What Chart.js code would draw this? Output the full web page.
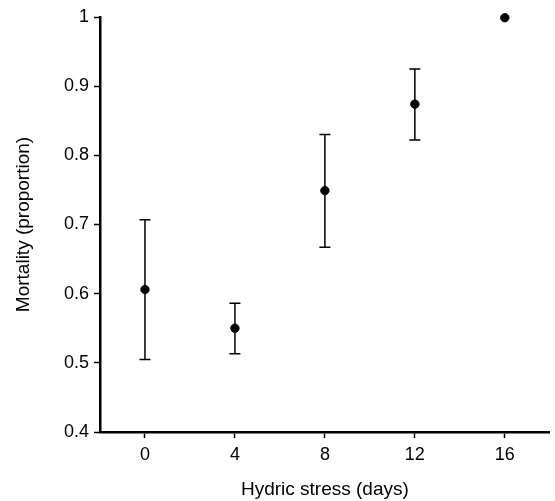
<!DOCTYPE html>
<html>
<head>
<meta charset="utf-8">
<script src="https://cdn.jsdelivr.net/npm/chart.js@4"></script>
<style>
  html, body { margin: 0; padding: 0; background: #fff; }
  #wrap { width: 555px; height: 501px; }
</style>
</head>
<body>
<div id="wrap"><canvas id="chart"></canvas></div>
<script>
// Data //
var days = [0, 4, 8, 12, 16];
var mortality = [0.606, 0.550, 0.749, 0.874, 0.999];
var errUpper = [0.707, 0.586, 0.830, 0.925, null];
var errLower = [0.505, 0.513, 0.667, 0.822, null];
var xTicks = [0, 4, 8, 12, 16];
var yTicks = [0.4, 0.5, 0.6, 0.7, 0.8, 0.9, 1];

var points = days.map(function(d, i) {
    return {x: d, y: mortality[i]};
});

// error bars drawn under the points //
var errorBars = {
    id: 'errorBars',
    beforeDatasetsDraw: function(chart) {
        var ctx = chart.ctx;
        var xs = chart.scales.x, ys = chart.scales.y;
        ctx.save();
        ctx.strokeStyle = '#000';
        ctx.lineWidth = 1.5;
        for (var i = 0; i < days.length; i++) {
            if (errUpper[i] == null) continue;
            var px = xs.getPixelForValue(days[i]);
            var top = ys.getPixelForValue(errUpper[i]);
            var bot = ys.getPixelForValue(errLower[i]);
            ctx.beginPath();
            ctx.moveTo(px, top); ctx.lineTo(px, bot);
            ctx.moveTo(px - 5.5, top); ctx.lineTo(px + 5.5, top);
            ctx.moveTo(px - 5.5, bot); ctx.lineTo(px + 5.5, bot);
            ctx.stroke();
        }
        ctx.restore();
    }
};

var font = 'Liberation Sans, Arial, Helvetica, sans-serif';

new Chart(document.getElementById('chart'), {
    type: 'scatter',
    data: {
        datasets: [{
            data: points,
            backgroundColor: '#000',
            borderColor: '#000',
            borderWidth: 1,
            pointRadius: 4.2,
            pointHoverRadius: 4.2,
            clip: false
        }]
    },
    options: {
        responsive: true,
        maintainAspectRatio: false,
        animation: false,
        layout: { padding: { top: 17, right: 3, left: 0, bottom: 0 } },
        plugins: { legend: { display: false }, tooltip: { enabled: false } },
        scales: {
            x: {
                type: 'linear',
                min: -2,
                max: 18,
                afterBuildTicks: function(scale) {
                    scale.ticks = xTicks.map(function(v) { return {value: v}; });
                },
                afterFit: function(scale) { scale.height = 69; },
                grid: { drawOnChartArea: false, drawTicks: true, tickLength: 6, tickWidth: 1.5, tickColor: '#000' },
                border: { display: true, color: '#000', width: 2.5 },
                ticks: { color: '#000', font: { family: font, size: 18 }, padding: 6, maxRotation: 0 },
                title: {
                    display: true,
                    text: 'Hydric stress (days)',
                    color: '#000',
                    font: { family: font, size: 19 },
                    padding: { top: 0, bottom: 0 }
                }
            },
            y: {
                min: 0.4,
                max: 1,
                afterBuildTicks: function(scale) {
                    scale.ticks = yTicks.map(function(v) { return {value: v}; });
                },
                afterFit: function(scale) { scale.width = 100; },
                grid: { drawOnChartArea: false, drawTicks: true, tickLength: 6, tickWidth: 1.5, tickColor: '#000' },
                border: { display: true, color: '#000', width: 2.5 },
                ticks: {
                    color: '#000',
                    font: { family: font, size: 18 },
                    padding: 5,
                    callback: function(v) { return String(Math.round(v * 10) / 10); }
                },
                title: {
                    display: true,
                    text: 'Mortality (proportion)',
                    color: '#000',
                    font: { family: font, size: 19 },
                    padding: { top: 12, bottom: 0 }
                }
            }
        }
    },
    plugins: [errorBars]
});
</script>
</body>
</html>
